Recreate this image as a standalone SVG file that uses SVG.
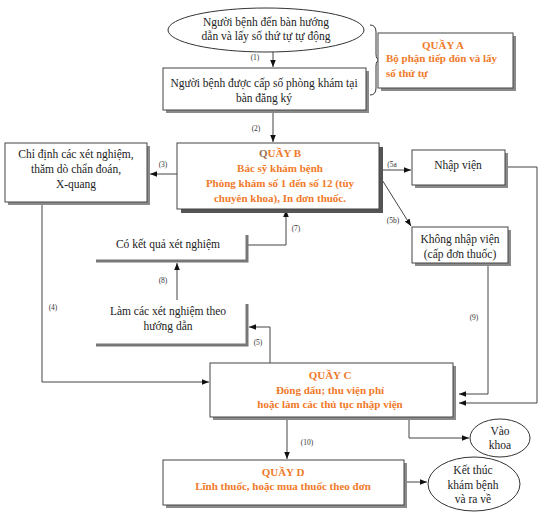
<svg xmlns="http://www.w3.org/2000/svg" width="544" height="516" viewBox="0 0 544 516">
<defs>
<marker id="ah" viewBox="0 0 10 10" refX="10" refY="5" markerWidth="7" markerHeight="7" orient="auto" markerUnits="userSpaceOnUse">
<path d="M0,1 L10,5 L0,9 Z" fill="#111"/>
</marker>
</defs>
<style>
.t{font-family:"Liberation Serif","DejaVu Serif",serif;font-size:11.5px;fill:#222;text-anchor:middle}
.o{font-family:"Liberation Serif","DejaVu Serif",serif;font-size:11px;font-weight:bold;fill:#f07a2a;text-anchor:middle}
.ol{font-family:"Liberation Serif","DejaVu Serif",serif;font-size:11px;font-weight:bold;fill:#f07a2a}
.lb{font-family:"Liberation Serif","DejaVu Serif",serif;font-size:7.5px;fill:#333;text-anchor:middle}
.box{fill:#fff;stroke:#444;stroke-width:1}
.sh{fill:#8a8a8a}
.shd{fill:#555}
.c{fill:none;stroke:#444;stroke-width:1}
.ca{fill:none;stroke:#444;stroke-width:1;marker-end:url(#ah)}
.br{fill:none;stroke:#777;stroke-width:3}
</style>

<g id="connectors">
<line class="ca" x1="273" y1="52" x2="273" y2="67"/>
<line class="ca" x1="273" y1="111" x2="273" y2="142"/>
<line class="ca" x1="177" y1="174" x2="150" y2="174"/>
<polyline class="ca" points="42,202 42,382 209,382"/>
<line class="ca" x1="379" y1="170" x2="411" y2="170"/>
<line class="ca" x1="379" y1="175" x2="411" y2="226"/>
<polyline class="ca" points="505,167 537,167 537,403 459,403"/>
<polyline class="ca" points="488,263 488,394 459,394"/>
<polyline class="ca" points="248,245 286,245 286,210"/>
<line class="ca" x1="177" y1="300" x2="177" y2="263"/>
<polyline class="ca" points="270,363 270,327 249,327"/>
<polyline class="ca" points="409,417 409,438 469,438"/>
<line class="ca" x1="287" y1="420" x2="287" y2="459"/>
<line class="ca" x1="405" y1="482" x2="427" y2="482"/>
<text class="lb" x="255" y="60">(1)</text>
<text class="lb" x="256" y="131" fill="#334">(2)</text>
<text class="lb" x="163" y="167">(3)</text>
<text class="lb" x="53" y="310">(4)</text>
<text class="lb" x="392" y="167">(5a</text>
<text class="lb" x="393" y="223">(5b)</text>
<text class="lb" x="296" y="231">(7)</text>
<text class="lb" x="163" y="283">(8)</text>
<text class="lb" x="258" y="345">(5)</text>
<text class="lb" x="474" y="320">(9)</text>
<text class="lb" x="307" y="445">(10)</text>
</g>

<g id="start">
<ellipse cx="266" cy="30" rx="98" ry="22" fill="#fff" stroke="#333" stroke-width="1"/>
<text class="t" x="266" y="26">Người bệnh đến bàn hướng</text>
<text class="t" x="266" y="40">dẫn và lấy số thứ tự tự động</text>
</g>

<g id="register">
<rect class="sh" x="166" y="71" width="203" height="42"/>
<rect class="box" x="163" y="68" width="203" height="42"/>
<text class="t" x="264" y="87">Người bệnh được cấp số phòng khám tại</text>
<text class="t" x="264" y="102">bàn đăng ký</text>
</g>

<g id="brace">
<path d="M370,25 Q376,25 376,32 L376,54 Q376,60 380,60 Q376,60 376,66 L376,88 Q376,95 370,95" fill="none" stroke="#333" stroke-width="1"/>
</g>

<g id="quayA">
<rect class="sh" x="381" y="36" width="135" height="55"/>
<rect class="box" x="378" y="33" width="135" height="55"/>
<text class="o" x="443" y="49">QUẦY A</text>
<text class="ol" x="386" y="62">Bộ phận tiếp đón và lấy</text>
<text class="ol" x="386" y="77">số thứ tự</text>
</g>

<g id="quayB">
<rect class="shd" x="181" y="147" width="202" height="66"/>
<rect class="box" x="177" y="143" width="202" height="66" stroke="#333" stroke-width="1.5"/>
<text class="o" x="280" y="157"><tspan fill="#9a7050">Q</tspan>UẦY B</text>
<text class="o" x="280" y="172">Bác sỹ khám bệnh</text>
<text class="o" x="280" y="187">Phòng khám số 1 đến số 12 (tùy</text>
<text class="o" x="280" y="202">chuyên khoa), In đơn thuốc.</text>
</g>

<g id="chidinh">
<rect class="sh" x="8" y="146" width="142" height="59"/>
<rect class="box" x="5" y="143" width="142" height="59"/>
<text class="t" x="76" y="158">Chỉ định các xét nghiệm,</text>
<text class="t" x="76" y="173">thăm dò chẩn đoán,</text>
<text class="t" x="76" y="188">X-quang</text>
</g>

<g id="nhapvien">
<rect class="sh" x="415" y="153" width="93" height="35"/>
<rect class="box" x="412" y="150" width="93" height="35"/>
<text class="t" x="458" y="169">Nhập viện</text>
</g>

<g id="khongnhapvien">
<rect class="sh" x="415" y="230" width="96" height="36"/>
<rect class="box" x="412" y="227" width="96" height="36"/>
<text class="t" x="460" y="243">Không nhập viện</text>
<text class="t" x="460" y="258">(cấp đơn thuốc)</text>
</g>

<g id="ketqua">
<polyline class="br" points="96,261 247,261 247,235"/>
<text class="t" x="168" y="248">Có kết quả xét nghiệm</text>
</g>

<g id="lamxetnghiem">
<polyline class="br" points="96,345 247,345 247,304"/>
<text class="t" x="168" y="315">Làm các xét nghiệm theo</text>
<text class="t" x="168" y="330">hướng dẫn</text>
</g>

<g id="quayC">
<rect class="sh" x="213" y="366" width="243" height="54"/>
<rect class="box" x="210" y="363" width="243" height="54"/>
<text class="o" x="330" y="379">QUẦY C</text>
<text class="o" x="330" y="394">Đóng dấu;  thu viện phí</text>
<text class="o" x="330" y="408">hoặc làm các thủ tục nhập viện</text>
</g>

<g id="vaokhoa">
<ellipse cx="500" cy="438" rx="30" ry="19" fill="#fff" stroke="#333" stroke-width="1"/>
<text class="t" x="500" y="435">Vào</text>
<text class="t" x="500" y="449">khoa</text>
</g>

<g id="quayD">
<rect class="sh" x="166" y="463" width="241" height="45"/>
<rect class="box" x="163" y="460" width="241" height="45" stroke="#111" stroke-width="2"/>
<text class="o" x="283" y="476">QUẦY D</text>
<text class="o" x="283" y="490">Lĩnh thuốc, hoặc mua thuốc theo đơn</text>
</g>

<g id="ketthuc">
<ellipse cx="474" cy="484" rx="46" ry="27" fill="#fff" stroke="#333" stroke-width="1"/>
<text class="t" x="473" y="474">Kết thúc</text>
<text class="t" x="473" y="489">khám bệnh</text>
<text class="t" x="473" y="503">và ra về</text>
</g>
</svg>
